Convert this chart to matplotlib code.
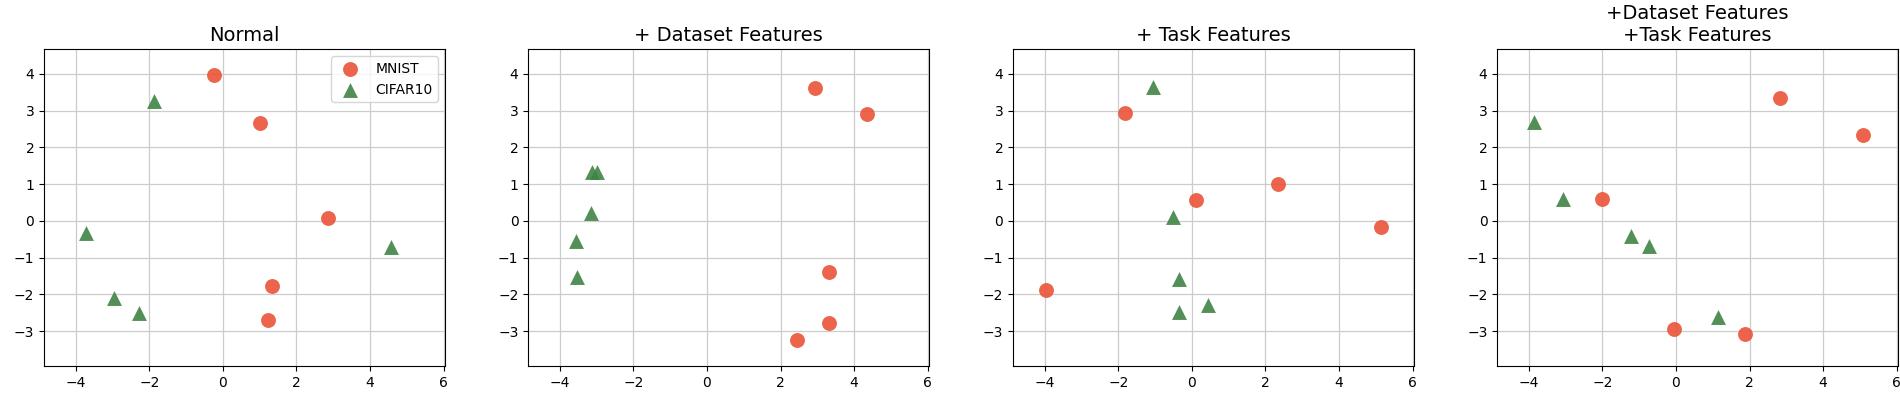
import matplotlib
matplotlib.use("Agg")
import matplotlib.pyplot as plt

titles = ["Normal", "+ Dataset Features", "+ Task Features",
          "+Dataset Features\n+Task Features"]

# MNIST points per panel
mnist_x = [
    [-0.25, 1.01, 2.87, 1.34, 1.23],
    [2.95, 4.35, 3.32, 3.32, 2.44],
    [-1.83, 0.10, 2.33, 5.15, -3.96],
    [2.82, 5.09, -2.02, -0.06, 1.88],
]
mnist_y = [
    [3.96, 2.67, 0.08, -1.77, -2.69],
    [3.61, 2.92, -1.39, -2.77, -3.25],
    [2.93, 0.58, 0.99, -0.16, -1.87],
    [3.35, 2.33, 0.60, -2.95, -3.07],
]

# CIFAR10 points per panel
cifar_x = [
    [-1.87, -3.72, -2.95, -2.29, 4.58],
    [-3.13, -3.00, -3.16, -3.56, -3.52],
    [-1.06, -0.50, -0.35, -0.35, 0.44],
    [-3.86, -3.06, -1.21, -0.73, 1.13],
]
cifar_y = [
    [3.25, -0.32, -2.09, -2.52, -0.71],
    [1.32, 1.34, 0.22, -0.54, -1.53],
    [3.63, 0.11, -1.58, -2.47, -2.29],
    [2.70, 0.59, -0.41, -0.68, -2.62],
]

red = "#eb5339"
green = "#3f8445"

fig = plt.figure(figsize=(19, 3.93), dpi=100)
lefts = [0.0232, 0.278, 0.5332, 0.788]

for i in range(4):
    ax = fig.add_axes([lefts[i], 0.0687, 0.211, 0.806])
    ax.scatter(mnist_x[i], mnist_y[i], s=115, marker="o", color=red, alpha=0.9,
               label="MNIST", zorder=3, linewidths=0)
    ax.scatter(cifar_x[i], cifar_y[i], s=115, marker="^", color=green, alpha=0.9,
               label="CIFAR10", zorder=3, linewidths=0)
    ax.set_xlim(-4.86, 6.04)
    ax.set_ylim(-3.95, 4.67)
    ax.set_xticks([-4, -2, 0, 2, 4, 6])
    ax.set_yticks([-3, -2, -1, 0, 1, 2, 3, 4])
    ax.grid(True, color="#cccccc", linewidth=0.9)
    ax.set_axisbelow(True)
    ax.tick_params(labelsize=10)
    ax.set_title(titles[i], fontsize=14)
    if i == 0:
        ax.legend(loc="upper right", fontsize=10)

plt.savefig("out.png", dpi=100)
